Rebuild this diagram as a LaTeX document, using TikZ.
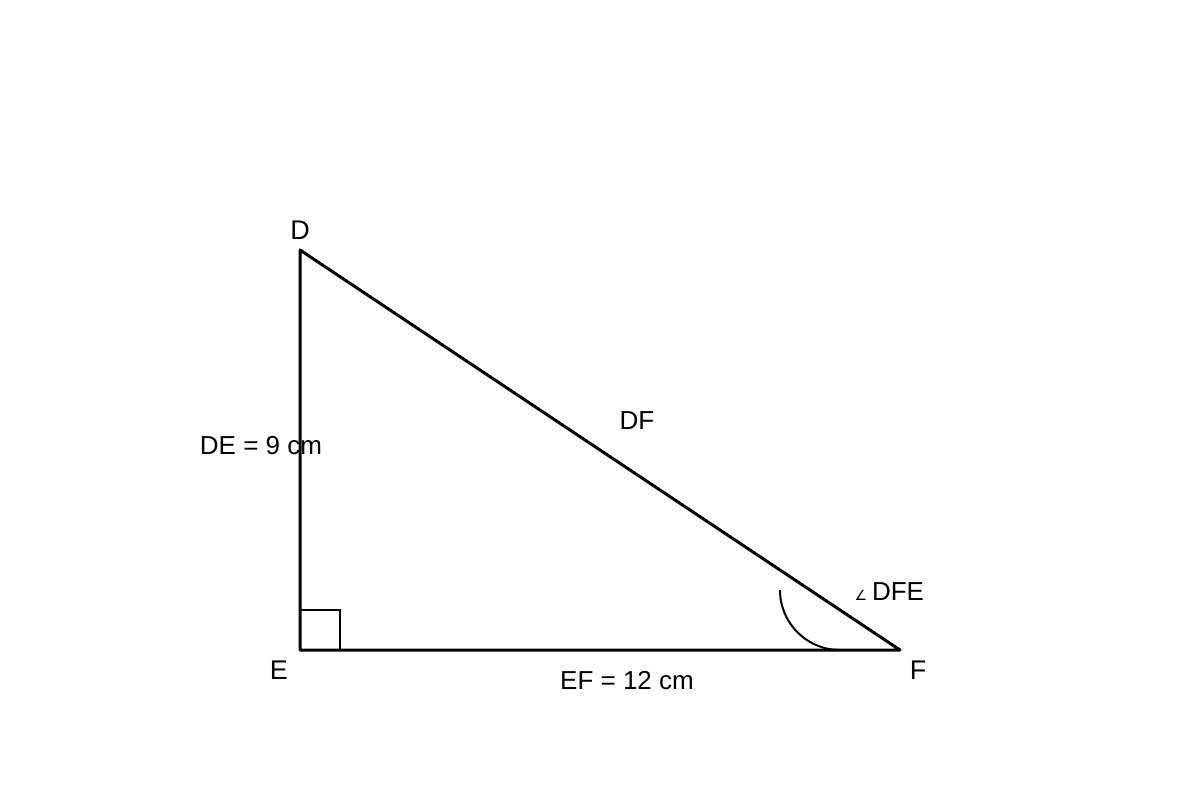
\documentclass[tikz,border=0pt]{standalone}
\usepackage{fontspec}
\setmainfont{Liberation Sans}
\newfontfamily\symfont{DejaVu Sans}
\usetikzlibrary{positioning}
\tikzstyle{vertex}=[coordinate]
\tikzstyle{vlabel}=[font=\fontsize{13.5}{16}\selectfont,inner sep=0pt]
\tikzstyle{side}=[font=\fontsize{13}{15}\selectfont,inner sep=0pt]
\tikzstyle{edge}=[line width=1.5pt,line cap=round,line join=round]
\tikzstyle{thin}=[line width=1pt]

\begin{document}
\begin{tikzpicture}[x=0.5pt,y=-0.5pt]
\useasboundingbox (0,0) rectangle (1200,800);

    \foreach \pos/\name in {{(300,250)/D}, {(300,650)/E}, {(900,650)/F}}
        \node[vertex] (\name) at \pos {};

    \draw[edge] (D) -- (E) -- (F) -- cycle;

%right angle and angle at F
    \draw[thin] (E) ++(0,-40) coordinate (sq1) -- ++(40,0) coordinate (sq2) -- ++(0,40);
    \coordinate (arcstart) at (780,590);
    \draw[thin] (arcstart) arc[start angle=180, end angle=90, radius=60];

\node[vlabel] (labD) at (300,230) {D};
\node[vlabel] (labE) at (279,670) {E};
\node[vlabel] (labF) at (918,670) {F};

\node[side] (labDF) at (637,421) {DF};
\node[side] (labDE) at (261,446) {DE = 9 cm};
\node[side] (labEF) at (627,681) {EF = 12 cm};
\node[side] (labDFE) at (898,592) {DFE};
\node[inner sep=0pt, left=2pt of labDFE, yshift=-1.5pt] (angsym) {\fontsize{7}{8}\selectfont\symfont ∠};

\end{tikzpicture}
\end{document}
